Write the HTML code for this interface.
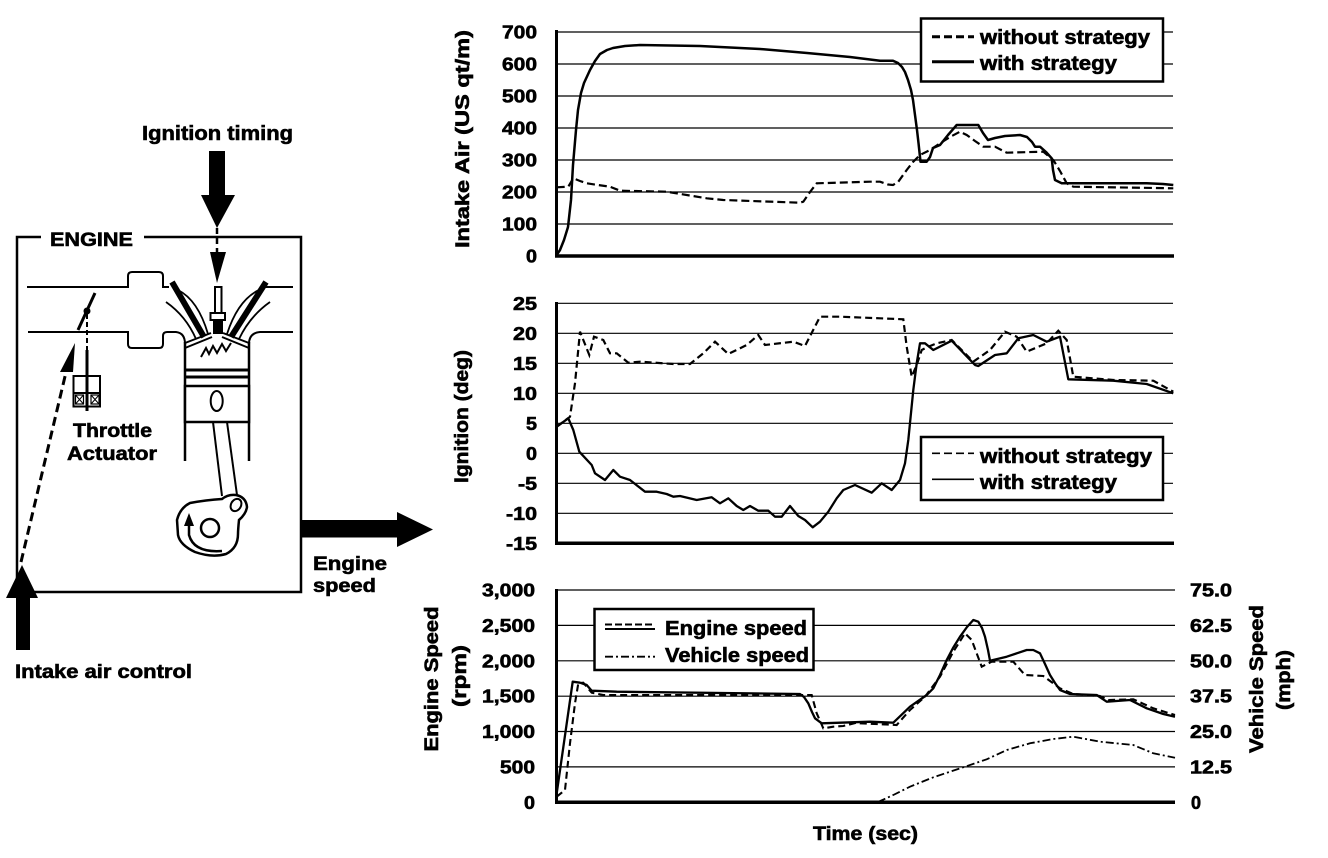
<!DOCTYPE html>
<html><head><meta charset="utf-8"><style>
html,body{margin:0;padding:0;background:#fff;}
svg{display:block;}
text{font-family:"Liberation Sans",Arial,sans-serif;font-weight:bold;fill:#000;stroke:#000;stroke-width:0.6px;}
</style></head><body>
<svg width="1328" height="858" viewBox="0 0 1328 858" xmlns="http://www.w3.org/2000/svg">
<rect width="1328" height="858" fill="#fff"/>

<!-- ============ ENGINE DIAGRAM ============ -->
<text x="142" y="140" font-size="20" textLength="151" lengthAdjust="spacingAndGlyphs">Ignition timing</text>
<rect x="209" y="151" width="16" height="45" fill="#000"/>
<polygon points="201,195 235,195 217,228" fill="#000"/>
<line x1="217" y1="228" x2="217" y2="253" stroke="#000" stroke-width="2.5" stroke-dasharray="6,4"/>
<polygon points="210,252 226,252 217,283" fill="#000"/>

<!-- engine box -->
<path d="M41,237 H17 V592 H301 V237 H144" fill="none" stroke="#000" stroke-width="2.5"/>
<text x="50" y="246" font-size="19" textLength="83" lengthAdjust="spacingAndGlyphs">ENGINE</text>

<!-- intake tube -->
<path d="M27,287 H128 V276 Q128,272 132,272 H159 Q163,272 163,276 V287 H169" fill="none" stroke="#000" stroke-width="2"/>
<path d="M28,332 H128 V344 Q128,348 132,348 H159 Q163,348 163,344 V336 Q163,332 167,332 H176 Q185,333 185,344" fill="none" stroke="#000" stroke-width="2"/>
<path d="M264,287 H293" fill="none" stroke="#000" stroke-width="2"/>
<path d="M293,332 H260 Q249,333 249,344" fill="none" stroke="#000" stroke-width="2"/>

<!-- cylinder walls -->
<line x1="185" y1="342" x2="185" y2="461" stroke="#000" stroke-width="2.5"/>
<line x1="249" y1="342" x2="249" y2="461" stroke="#000" stroke-width="2.5"/>
<!-- roof -->
<path d="M185,348 L212,337 M185,343 L211,333" stroke="#000" stroke-width="2" fill="none"/>
<path d="M249,348 L222,337 M249,343 L223,333" stroke="#000" stroke-width="2" fill="none"/>
<!-- valves -->
<line x1="172" y1="282" x2="204" y2="337" stroke="#000" stroke-width="6"/>
<line x1="266" y1="282" x2="231" y2="337" stroke="#000" stroke-width="6"/>
<path d="M178,290 Q198,300 208,334 M166,302 Q186,316 196,339" stroke="#000" stroke-width="1.8" fill="none"/>
<path d="M259,290 Q238,300 227,334 M270,302 Q250,316 239,339" stroke="#000" stroke-width="1.8" fill="none"/>
<!-- spark plug -->
<rect x="215" y="287" width="6.5" height="26" fill="#fff" stroke="#000" stroke-width="2"/>
<rect x="210.5" y="313" width="14.5" height="7" fill="#fff" stroke="#000" stroke-width="2"/>
<rect x="213" y="320" width="10" height="14" fill="#000"/>
<!-- spark zigzag -->
<polyline points="201,357 206,348 209,354 213,346 217,353 222,344 226,351 231,343" fill="none" stroke="#000" stroke-width="2"/>
<!-- piston -->
<line x1="185" y1="370" x2="249" y2="370" stroke="#000" stroke-width="3"/>
<line x1="185" y1="377" x2="249" y2="377" stroke="#000" stroke-width="3"/>
<rect x="185" y="386" width="64" height="36" fill="#fff" stroke="#000" stroke-width="2.5"/>
<ellipse cx="216.7" cy="401" rx="6" ry="10" fill="none" stroke="#000" stroke-width="2"/>
<!-- rod -->
<line x1="213" y1="422" x2="222" y2="496" stroke="#000" stroke-width="2"/>
<line x1="227" y1="422" x2="237" y2="495" stroke="#000" stroke-width="2"/>
<!-- crank -->
<path d="M177,520 Q180,508 190,503 Q206,500 222,499 Q228,494 236,495 Q246,497 247,507 Q246,514 239,520 Q238,530 238,534 Q238,548 226,554 Q212,558 195,552 Q180,545 178,535 Z" fill="#fff" stroke="#000" stroke-width="2.5"/>
<ellipse cx="236" cy="505" rx="5" ry="6.5" transform="rotate(30 236 505)" fill="none" stroke="#000" stroke-width="2"/>
<circle cx="210" cy="528" r="9" fill="none" stroke="#000" stroke-width="2.5"/>
<path d="M222,551 Q194,553 189,535 L189,524" fill="none" stroke="#000" stroke-width="2.5"/>
<polygon points="184,526 194,526 189,513" fill="#000"/>

<!-- throttle -->
<line x1="78" y1="330" x2="95" y2="293" stroke="#000" stroke-width="3"/>
<circle cx="87" cy="311" r="3.5" fill="#000"/>
<line x1="87" y1="314" x2="87" y2="350" stroke="#000" stroke-width="2" stroke-dasharray="5,3"/>
<line x1="87" y1="350" x2="87" y2="411" stroke="#000" stroke-width="3"/>
<rect x="73.5" y="376" width="26.5" height="30.5" fill="none" stroke="#000" stroke-width="2"/>
<line x1="73.5" y1="393" x2="100" y2="393" stroke="#000" stroke-width="2"/>
<rect x="75.5" y="395" width="8" height="9" fill="#fff" stroke="#000" stroke-width="1.2"/>
<path d="M75.5,395 L83.5,404 M83.5,395 L75.5,404" stroke="#000" stroke-width="1"/>
<rect x="91" y="395" width="8" height="9" fill="#fff" stroke="#000" stroke-width="1.2"/>
<path d="M91,395 L99,404 M99,395 L91,404" stroke="#000" stroke-width="1"/>
<!-- dashed intake arrow -->
<line x1="21" y1="562" x2="67" y2="368" stroke="#000" stroke-width="3" stroke-dasharray="9,5"/>
<polygon points="75,343 60,372 73,372" fill="#000"/>
<text x="73" y="437" font-size="19" textLength="79" lengthAdjust="spacingAndGlyphs">Throttle</text>
<text x="67" y="460" font-size="19" textLength="90" lengthAdjust="spacingAndGlyphs">Actuator</text>

<!-- intake air arrow -->
<polygon points="22,565 6,598 38,598" fill="#000"/>
<rect x="16" y="597" width="14" height="53" fill="#000"/>
<text x="15" y="678" font-size="19" textLength="177" lengthAdjust="spacingAndGlyphs">Intake air control</text>

<!-- engine speed arrow -->
<rect x="301" y="520" width="97" height="17.5" fill="#000"/>
<polygon points="397,512 397,547 433,529.5" fill="#000"/>
<text x="313" y="570" font-size="19" textLength="74" lengthAdjust="spacingAndGlyphs">Engine</text>
<text x="313" y="592" font-size="19" textLength="63" lengthAdjust="spacingAndGlyphs">speed</text>

<!-- ============ TOP CHART ============ -->
<g stroke="#000" stroke-width="1.2">
<line x1="556" y1="32" x2="1173" y2="32"/><line x1="556" y1="64" x2="1173" y2="64"/>
<line x1="556" y1="96" x2="1173" y2="96"/><line x1="556" y1="128" x2="1173" y2="128"/>
<line x1="556" y1="160" x2="1173" y2="160"/><line x1="556" y1="192" x2="1173" y2="192"/>
<line x1="556" y1="224" x2="1173" y2="224"/>
</g>
<line x1="555" y1="256" x2="1174" y2="256" stroke="#000" stroke-width="3.5"/>
<line x1="556.5" y1="30" x2="556.5" y2="257" stroke="#000" stroke-width="3"/>
<g font-size="18" text-anchor="end">
<text x="537" y="38.5" textLength="35" lengthAdjust="spacingAndGlyphs">700</text>
<text x="537" y="70.5" textLength="35" lengthAdjust="spacingAndGlyphs">600</text>
<text x="537" y="102.5" textLength="35" lengthAdjust="spacingAndGlyphs">500</text>
<text x="537" y="134.5" textLength="35" lengthAdjust="spacingAndGlyphs">400</text>
<text x="537" y="166.5" textLength="35" lengthAdjust="spacingAndGlyphs">300</text>
<text x="537" y="198.5" textLength="35" lengthAdjust="spacingAndGlyphs">200</text>
<text x="537" y="230.5" textLength="35" lengthAdjust="spacingAndGlyphs">100</text>
<text x="537" y="262.5" textLength="11" lengthAdjust="spacingAndGlyphs">0</text>
</g>
<text transform="translate(469,139) rotate(-90)" font-size="19" text-anchor="middle" textLength="218" lengthAdjust="spacingAndGlyphs">Intake Air (US qt/m)</text>

<polyline fill="none" stroke="#000" stroke-width="2.5" stroke-linejoin="round" points="556.7,255 560,250 564,240 568,227 571,200 573,165 576,130 578,110 581,93 584,83 590,70 595,61 600,54 607,50 613,48 625,46 640,45 700,46 760,49 807,53 850,57 880,60.7 893,60.7 898,63 902,67 905,72 908,80 911,90 913,100 915,115 917,130 918.5,143 920.5,161.7 926.7,161.7 930,157 933,148 940,145 948,135 956.7,125 978.3,125 983,133 988,140 995,138 1005,136 1020,135 1027,137 1032,142 1035,146.7 1040,146.7 1046,152 1051.7,158.3 1053,170 1055,180 1061.7,183.3 1146.7,183.3 1163,184 1173.3,185"/>
<polyline fill="none" stroke="#000" stroke-width="2.2" stroke-dasharray="8,4" points="556.7,187.3 568.3,186.7 573.3,178.3 580,181 586.7,183.3 598,185 610,186.7 620,190.7 666.7,191.7 706.7,198.3 723.3,200 800,202.7 803.3,201.7 810,192 816.7,183.3 870,181.7 880,181.7 888,184.5 893,185 898.3,181.7 906.7,170 913,162 920,155 930,150 940,143.3 950,137 960,131.7 966.7,135 975,141 983.3,146.7 995,146.7 1006.7,152.7 1043.3,151.7 1053.3,160 1060,171 1066.7,183.3 1073.3,186.7 1173.3,188.3"/>

<rect x="921" y="18.5" width="242" height="63" fill="#fff" stroke="#000" stroke-width="2.5"/>
<line x1="932" y1="36.7" x2="974" y2="36.7" stroke="#000" stroke-width="3" stroke-dasharray="8,4"/>
<line x1="932" y1="61.7" x2="974" y2="61.7" stroke="#000" stroke-width="3"/>
<text x="980" y="44" font-size="20" textLength="170" lengthAdjust="spacingAndGlyphs">without strategy</text>
<text x="980" y="70" font-size="20" textLength="137" lengthAdjust="spacingAndGlyphs">with strategy</text>

<!-- ============ MIDDLE CHART ============ -->
<g stroke="#000" stroke-width="1.2">
<line x1="556" y1="303.3" x2="1173" y2="303.3"/><line x1="556" y1="333.3" x2="1173" y2="333.3"/>
<line x1="556" y1="363.3" x2="1173" y2="363.3"/><line x1="556" y1="393.3" x2="1173" y2="393.3"/>
<line x1="556" y1="423.3" x2="1173" y2="423.3"/><line x1="556" y1="453.3" x2="1173" y2="453.3"/>
<line x1="556" y1="483.3" x2="1173" y2="483.3"/><line x1="556" y1="513.3" x2="1173" y2="513.3"/>
</g>
<line x1="555" y1="543.3" x2="1174" y2="543.3" stroke="#000" stroke-width="3.5"/>
<line x1="556.5" y1="302" x2="556.5" y2="545" stroke="#000" stroke-width="3"/>
<g font-size="18" text-anchor="end">
<text x="537" y="309.8" textLength="24" lengthAdjust="spacingAndGlyphs">25</text>
<text x="537" y="339.8" textLength="24" lengthAdjust="spacingAndGlyphs">20</text>
<text x="537" y="369.8" textLength="24" lengthAdjust="spacingAndGlyphs">15</text>
<text x="537" y="399.8" textLength="24" lengthAdjust="spacingAndGlyphs">10</text>
<text x="537" y="429.8" textLength="11" lengthAdjust="spacingAndGlyphs">5</text>
<text x="537" y="459.8" textLength="11" lengthAdjust="spacingAndGlyphs">0</text>
<text x="537" y="489.8" textLength="19" lengthAdjust="spacingAndGlyphs">-5</text>
<text x="537" y="519.8" textLength="31" lengthAdjust="spacingAndGlyphs">-10</text>
<text x="537" y="549.8" textLength="31" lengthAdjust="spacingAndGlyphs">-15</text>
</g>
<text transform="translate(468,416.5) rotate(-90)" font-size="19" text-anchor="middle" textLength="133" lengthAdjust="spacingAndGlyphs">Ignition (deg)</text>

<polyline fill="none" stroke="#000" stroke-width="2.3" stroke-linejoin="round" points="556.7,426.7 568.3,418.3 573.3,430 579.3,451.7 591.7,465 595,473.3 605,480 613.3,470 620,476.7 630,480 645,491.7 656.7,491.7 666.7,494 673.3,496.7 680,496 696.7,500 711.7,497.3 720,503.3 728.3,498.3 736.7,506 743.3,510 750,506 758.3,510.7 768.3,510.7 775,516.7 781.7,516.7 790,506 798.3,516 805,520 812.7,527.3 820,521.7 828.3,511.7 836.7,498.3 843.3,490 855,485 871.7,492.7 881.7,483.3 891.7,490 900,480 905,463.3 908.3,440 913.3,390 916.7,363.3 920,343.3 925,343.3 933.3,350 951.7,340.7 975,365 978.3,366 995,355 1006.7,353.3 1018.3,338.3 1033.3,335 1046.7,341.7 1060,336.7 1068.3,379.3 1113.3,380.7 1146.7,384 1173.3,393.3"/>
<polyline fill="none" stroke="#000" stroke-width="2.2" stroke-dasharray="7,4" points="556.7,426.7 570,416.7 575,383.3 580,331.7 589.3,355 594,336.7 603.3,340 610,353.3 616.7,353.3 628.3,362.7 640,361.7 673.3,364 690,364 703.3,353.3 715,341.7 728.3,354 746.7,345 758.3,335 765,345 793.3,341.7 805,346 820,316.7 840,316.7 880,318.3 903.3,319.3 906.7,346.7 911.7,376.7 916.7,365 921.7,350 928.3,346.7 936.7,343.3 951.7,340 973.3,361.7 990,350 1005,331.7 1016.7,336.7 1026.7,351.7 1046.7,343.3 1058.3,330.7 1066.7,340 1073.3,376.7 1113.3,380 1153.3,380.7 1173.3,391.7"/>

<rect x="921" y="437" width="242" height="63" fill="#fff" stroke="#000" stroke-width="2.5"/>
<line x1="932" y1="453.3" x2="974" y2="453.3" stroke="#000" stroke-width="1.6" stroke-dasharray="8,4"/>
<line x1="932" y1="479.3" x2="974" y2="479.3" stroke="#000" stroke-width="1.6"/>
<text x="980" y="463" font-size="20" textLength="172" lengthAdjust="spacingAndGlyphs">without strategy</text>
<text x="980" y="489" font-size="20" textLength="137" lengthAdjust="spacingAndGlyphs">with strategy</text>

<!-- ============ BOTTOM CHART ============ -->
<g stroke="#000" stroke-width="1.2">
<line x1="556" y1="590" x2="1175" y2="590"/><line x1="556" y1="625.4" x2="1175" y2="625.4"/>
<line x1="556" y1="660.8" x2="1175" y2="660.8"/><line x1="556" y1="696.2" x2="1175" y2="696.2"/>
<line x1="556" y1="731.5" x2="1175" y2="731.5"/><line x1="556" y1="766.9" x2="1175" y2="766.9"/>
</g>
<line x1="555" y1="802.3" x2="1175" y2="802.3" stroke="#000" stroke-width="3.5"/>
<line x1="556.5" y1="589" x2="556.5" y2="804" stroke="#000" stroke-width="3"/>
<g font-size="18" text-anchor="end">
<text x="535" y="596.5" textLength="53" lengthAdjust="spacingAndGlyphs">3,000</text>
<text x="535" y="631.9" textLength="53" lengthAdjust="spacingAndGlyphs">2,500</text>
<text x="535" y="667.3" textLength="53" lengthAdjust="spacingAndGlyphs">2,000</text>
<text x="535" y="702.7" textLength="53" lengthAdjust="spacingAndGlyphs">1,500</text>
<text x="535" y="738" textLength="53" lengthAdjust="spacingAndGlyphs">1,000</text>
<text x="535" y="773.4" textLength="35" lengthAdjust="spacingAndGlyphs">500</text>
<text x="535" y="808.8" textLength="11" lengthAdjust="spacingAndGlyphs">0</text>
</g>
<g font-size="18">
<text x="1190" y="596.5" textLength="42" lengthAdjust="spacingAndGlyphs">75.0</text>
<text x="1190" y="631.9" textLength="42" lengthAdjust="spacingAndGlyphs">62.5</text>
<text x="1190" y="667.3" textLength="42" lengthAdjust="spacingAndGlyphs">50.0</text>
<text x="1190" y="702.7" textLength="42" lengthAdjust="spacingAndGlyphs">37.5</text>
<text x="1190" y="738" textLength="42" lengthAdjust="spacingAndGlyphs">25.0</text>
<text x="1190" y="773.4" textLength="42" lengthAdjust="spacingAndGlyphs">12.5</text>
<text x="1191" y="808.8" textLength="10" lengthAdjust="spacingAndGlyphs">0</text>
</g>
<text transform="translate(438,679) rotate(-90)" font-size="19" text-anchor="middle" textLength="145" lengthAdjust="spacingAndGlyphs">Engine Speed</text>
<text transform="translate(466,676) rotate(-90)" font-size="19" text-anchor="middle" textLength="62" lengthAdjust="spacingAndGlyphs">(rpm)</text>
<text transform="translate(1263,679) rotate(-90)" font-size="19" text-anchor="middle" textLength="148" lengthAdjust="spacingAndGlyphs">Vehicle Speed</text>
<text transform="translate(1290,680) rotate(-90)" font-size="19" text-anchor="middle" textLength="60" lengthAdjust="spacingAndGlyphs">(mph)</text>
<text x="813" y="840" font-size="19" textLength="105" lengthAdjust="spacingAndGlyphs">Time (sec)</text>

<polyline fill="none" stroke="#000" stroke-width="2.3" stroke-linejoin="round" points="556.7,793.3 572.7,681.7 580,682.7 586.7,685 591.7,690.7 616.7,691.7 800,694 804,697 808.3,703.3 812,712 815,718.3 821.7,723.3 870,721.7 893.3,722.7 910,706.7 926.7,695 933.3,688.3 940,675 946.7,660 953,648 960,636.7 967,627 973.3,620 978.3,621.7 982,628 985,636.7 988,650 990,660.7 1006.7,656.7 1026.7,650 1033.3,650 1040,653.3 1045,664 1050,675 1055,683 1060,690 1070,694 1096.7,695 1106.7,701.7 1130,700 1146.7,708.3 1163.3,714 1175,716.7"/>
<polyline fill="none" stroke="#000" stroke-width="2.1" stroke-dasharray="7,4" points="556.7,796.7 565,790 570,743.3 575,703.3 578.3,683.3 583.3,682.7 591.7,692.7 603.3,695 811.7,695 816.7,713.3 823.3,728.3 833.3,726.7 843.3,726 856.7,722.7 860,723.3 896.7,725 910,710 925,696.7 940,676.7 953.3,651.7 965,633.3 971.7,640 981.7,666.7 991.7,661.7 1013.3,661.7 1025,675 1043.3,676 1060,688.3 1073.3,694 1100,696 1108.3,700 1133.3,699.3 1153.3,708.3 1175,715"/>
<polyline fill="none" stroke="#000" stroke-width="1.8" stroke-dasharray="8,3,2,3" points="878,802 893.3,795 910,786.7 933.3,777.3 963.3,767.3 986.7,759.3 1006.7,750 1030,743.3 1053.3,739 1073.3,736.7 1100,741.7 1133.3,745 1153.3,753.3 1175,757.7"/>

<rect x="594.5" y="609" width="219" height="61" fill="#fff" stroke="#000" stroke-width="2.5"/>
<line x1="605" y1="624.5" x2="655" y2="624.5" stroke="#000" stroke-width="2" stroke-dasharray="7,3"/>
<line x1="605" y1="629" x2="655" y2="629" stroke="#000" stroke-width="2"/>
<line x1="605" y1="656.7" x2="655" y2="656.7" stroke="#000" stroke-width="1.8" stroke-dasharray="8,3,2,3"/>
<text x="665" y="635" font-size="20" textLength="142" lengthAdjust="spacingAndGlyphs">Engine speed</text>
<text x="665" y="662" font-size="20" textLength="144" lengthAdjust="spacingAndGlyphs">Vehicle speed</text>
</svg>
</body></html>
